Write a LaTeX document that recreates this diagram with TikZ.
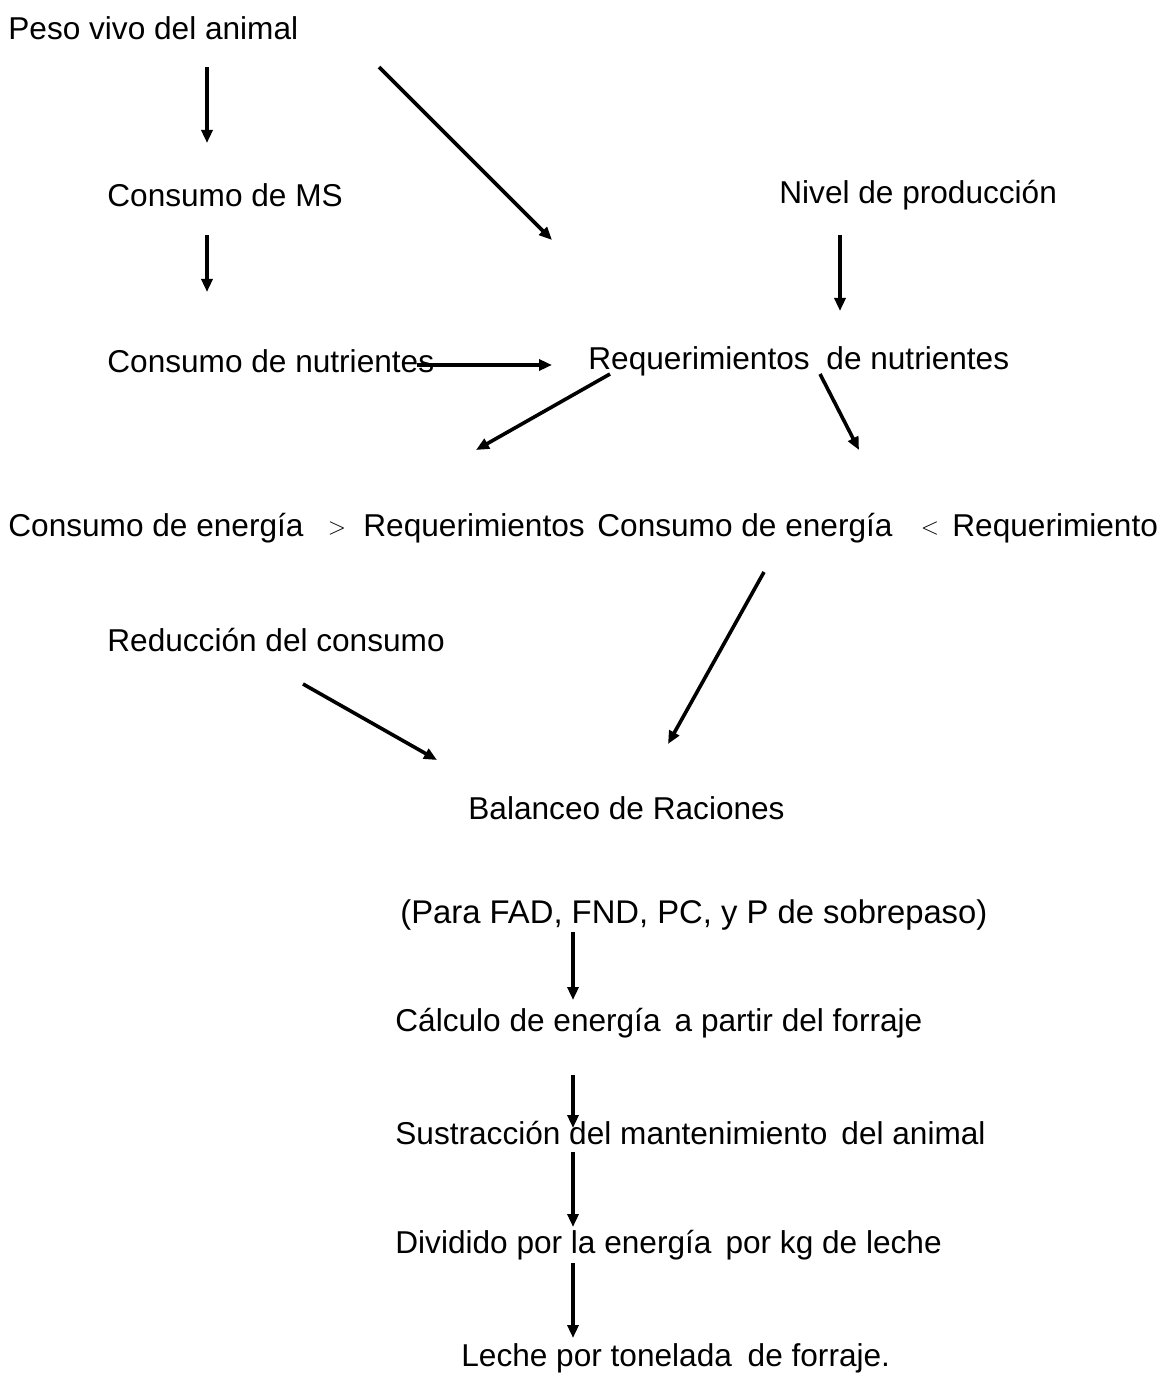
\documentclass[tikz,border=0pt]{standalone}
\usepackage{fontspec}
\setmainfont{Liberation Sans}
\usetikzlibrary{arrows.meta}
\tikzset{
  txt/.style={anchor=west,inner sep=0pt,font=\fontsize{15.8pt}{19pt}\selectfont},
  rel/.style={inner sep=0pt,font=\fontsize{13pt}{15pt}\selectfont},
  arr/.style={-{Triangle[length=6.5pt,width=5.5pt]},line width=1.8pt},
}
\begin{document}
\begin{tikzpicture}[x=0.5pt,y=-0.5pt]
  \useasboundingbox (0,0) rectangle (1156,1374);
  % texts
  \node[txt] (peso)    at (8,28)    {Peso vivo del animal};
  \node[txt] (consMS)  at (107,195) {Consumo de MS};
  \node[txt] (nivel)   at (779,195) {Nivel de producción};
  \node[txt] (consNut) at (107,361) {Consumo de nutrientes};
  \node[txt] (reqNut)  at (588,361) {Requerimientos\hspace{4pt} de nutrientes};
  \node[txt] (enMay)   at (8,528)   {Consumo de energía};
  \node[rel] (gt)      at (337,528) {$>$};
  \node[txt] (reqMay)  at (363,528) {Requerimientos};
  \node[txt] (enMen)   at (597,528) {Consumo de energía};
  \node[rel] (lt)      at (930,528) {$<$};
  \node[txt] (reqMen)  at (952,528) {Requerimiento};
  \node[txt] (reduc)   at (107,640) {Reducción del consumo};
  \node[txt] (balance) at (468,808) {Balanceo de Raciones};
  \node[txt,font=\fontsize{16.4pt}{19pt}\selectfont] (para) at (400,915) {(Para FAD, FND, PC, y P de sobrepaso)};
  \node[txt] (calc)    at (395,1023) {Cálculo de energía\, a partir del forraje};
  \node[txt] (sustr)   at (395,1133) {Sustracción del mantenimiento\, del animal};
  \node[txt] (divid)   at (395,1245) {Dividido por la energía\, por kg de leche};
  \node[txt] (leche)   at (461,1358) {Leche por tonelada\enspace de forraje.};
  % arrow ends
  \coordinate (p1) at (207,67);  \coordinate (m1) at (207,143);
  \coordinate (p2) at (207,235); \coordinate (m2) at (207,292);
  \coordinate (p3) at (379,67);  \coordinate (m3) at (552,240);
  \coordinate (p4) at (840,235); \coordinate (m4) at (840,311);
  \coordinate (p5) at (417,365); \coordinate (m5) at (552,365);
  \coordinate (p6) at (610,374); \coordinate (m6) at (476,450);
  \coordinate (p7) at (820,374); \coordinate (m7) at (859,450);
  \coordinate (p8) at (764,572); \coordinate (m8) at (668,744);
  \coordinate (p9) at (303,684); \coordinate (m9) at (437,760);
  \foreach \i in {1,...,9} {
    \draw[arr] (p\i) -- (m\i);
  }
  \foreach \a/\b [count=\i] in {932/1000,1075/1128,1152/1227,1263/1338} {
    \coordinate (vs\i) at (573,\a);
    \coordinate (ve\i) at (573,\b);
    \draw[arr] (vs\i) -- (ve\i);
  }
\end{tikzpicture}
\end{document}
